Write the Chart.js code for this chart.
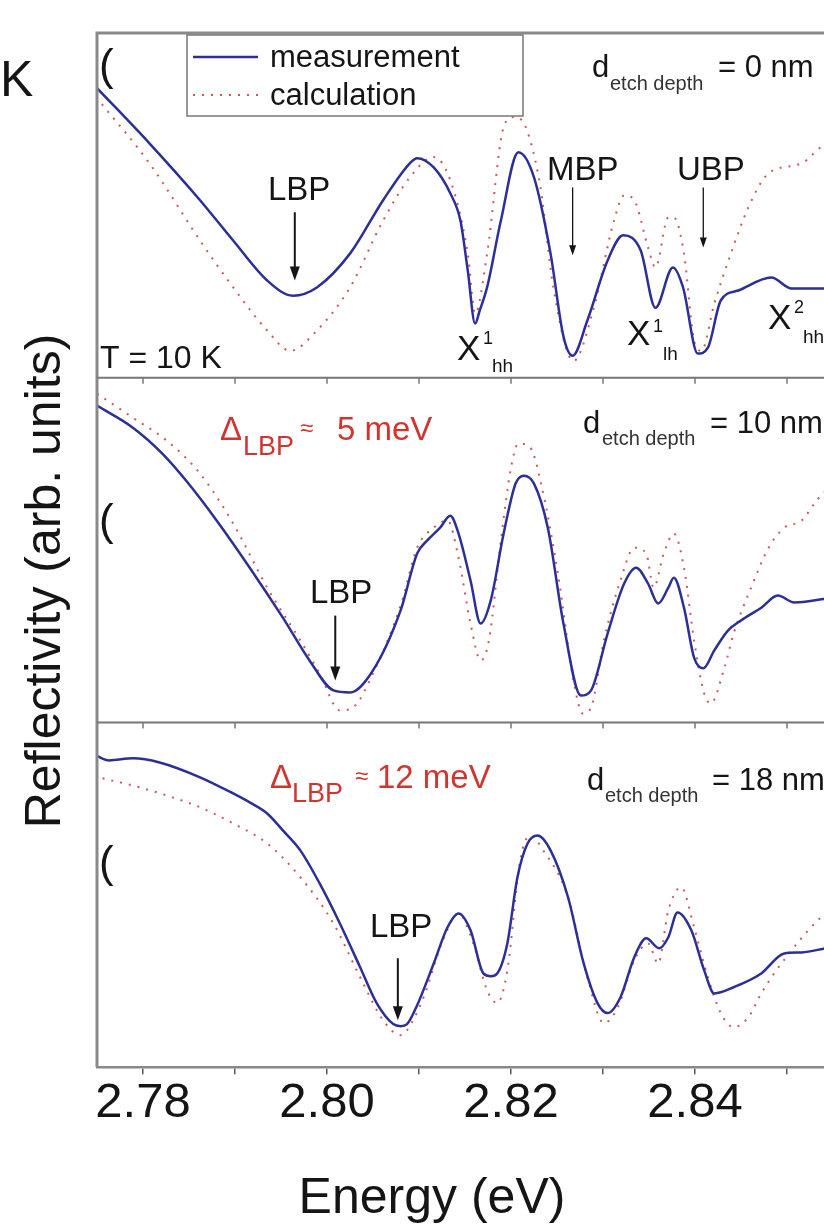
<!DOCTYPE html>
<html>
<head>
<meta charset="utf-8">
<script src="https://cdn.jsdelivr.net/npm/chart.js@4/dist/chart.umd.min.js"></script>
<style>
  html, body { margin: 0; background: #fff; overflow: hidden; }
  #wrap { width: 824px; height: 1225px; overflow: hidden; }
</style>
</head>
<body>
<div id="wrap"><canvas id="reflChart" width="890" height="1225"></canvas></div>
<script>
// Panel 1 : d_etch depth = 0 nm
const energyMeas1 = [2.7749, 2.7807, 2.7862, 2.7898, 2.7935, 2.7963, 2.7989, 2.8025, 2.8061, 2.8090, 2.8098, 2.8116, 2.8134, 2.8145, 2.8153, 2.8161, 2.8166, 2.8174, 2.8189, 2.8208, 2.8225, 2.8243, 2.8257, 2.8267, 2.8283, 2.8305, 2.8322, 2.8341, 2.8357, 2.8376, 2.8387, 2.8403, 2.8414, 2.8428, 2.8447, 2.8483, 2.8505, 2.8542];
const reflMeas1 = [84.3, 68.0, 51.5, 39.8, 28.2, 23.8, 26.2, 36.0, 51.5, 62.2, 63.7, 61.0, 53.5, 45.6, 31.1, 15.7, 19.5, 26.2, 45.6, 65.4, 58.1, 36.0, 12.0, 6.4, 16.6, 34.0, 41.3, 36.9, 20.3, 32.0, 26.2, 7.0, 8.7, 22.4, 25.3, 29.1, 25.9, 25.9];
const energyCalc1 = [2.7749, 2.7807, 2.7862, 2.7898, 2.7935, 2.7960, 2.7989, 2.8025, 2.8061, 2.8090, 2.8116, 2.8134, 2.8153, 2.8161, 2.8174, 2.8192, 2.8203, 2.8216, 2.8232, 2.8246, 2.8268, 2.8290, 2.8312, 2.8323, 2.8334, 2.8349, 2.8357, 2.8371, 2.8377, 2.8388, 2.8399, 2.8407, 2.8421, 2.8439, 2.8458, 2.8480, 2.8516, 2.8537, 2.8542];
const reflCalc1 = [81.4, 62.2, 39.8, 26.2, 13.7, 7.8, 13.7, 26.2, 45.6, 58.1, 64.0, 57.3, 36.0, 18.6, 36.0, 72.7, 75.6, 72.7, 55.2, 26.2, 4.9, 20.3, 45.6, 52.9, 51.5, 37.8, 32.0, 46.5, 46.5, 36.0, 10.8, 7.8, 21.5, 36.0, 49.4, 59.3, 62.2, 66.9, 67.5];

// Panel 2 : d_etch depth = 10 nm
const energyMeas2 = [2.7750, 2.7789, 2.7821, 2.7847, 2.7880, 2.7916, 2.7952, 2.7981, 2.8007, 2.8025, 2.8050, 2.8080, 2.8098, 2.8109, 2.8123, 2.8134, 2.8143, 2.8156, 2.8167, 2.8178, 2.8192, 2.8205, 2.8214, 2.8225, 2.8240, 2.8257, 2.8276, 2.8287, 2.8305, 2.8323, 2.8336, 2.8349, 2.8360, 2.8371, 2.8377, 2.8388, 2.8399, 2.8409, 2.8421, 2.8436, 2.8450, 2.8472, 2.8490, 2.8508, 2.8542];
const reflMeas2 = [91.9, 85.5, 78.0, 70.1, 58.6, 44.9, 30.4, 18.0, 9.3, 8.7, 15.1, 32.5, 49.0, 52.8, 56.5, 60.0, 54.8, 41.2, 28.7, 35.4, 54.8, 69.3, 71.6, 69.3, 56.5, 28.7, 7.8, 9.3, 25.8, 40.3, 44.9, 40.3, 34.5, 39.1, 42.0, 33.3, 18.8, 15.7, 20.9, 26.7, 29.6, 33.3, 36.8, 34.8, 35.9];
const energyCalc2 = [2.7750, 2.7789, 2.7826, 2.7862, 2.7898, 2.7935, 2.7971, 2.7992, 2.8014, 2.8028, 2.8050, 2.8080, 2.8098, 2.8116, 2.8131, 2.8143, 2.8156, 2.8167, 2.8176, 2.8189, 2.8200, 2.8208, 2.8221, 2.8232, 2.8251, 2.8268, 2.8278, 2.8287, 2.8301, 2.8319, 2.8334, 2.8347, 2.8355, 2.8366, 2.8377, 2.8388, 2.8399, 2.8410, 2.8417, 2.8432, 2.8442, 2.8461, 2.8480, 2.8497, 2.8516, 2.8532, 2.8542];
const reflCalc2 = [95.4, 88.4, 81.7, 72.2, 57.7, 39.1, 23.8, 14.2, 3.5, 4.3, 14.2, 33.9, 50.7, 56.5, 58.6, 47.8, 28.7, 18.0, 23.8, 52.8, 73.9, 80.9, 79.7, 70.1, 43.2, 12.2, 2.6, 4.3, 23.8, 41.2, 50.7, 49.0, 39.1, 49.0, 54.8, 44.9, 23.8, 8.4, 5.5, 15.9, 25.8, 39.1, 50.7, 56.5, 58.6, 64.3, 67.2];

// Panel 3 : d_etch depth = 18 nm
const energyMeas3 = [2.7749, 2.7763, 2.7789, 2.7818, 2.7862, 2.7898, 2.7916, 2.7935, 2.7952, 2.7971, 2.7992, 2.8014, 2.8036, 2.8054, 2.8072, 2.8080, 2.8087, 2.8098, 2.8116, 2.8131, 2.8143, 2.8156, 2.8170, 2.8178, 2.8185, 2.8196, 2.8207, 2.8218, 2.8229, 2.8243, 2.8262, 2.8279, 2.8294, 2.8305, 2.8319, 2.8334, 2.8347, 2.8361, 2.8371, 2.8381, 2.8396, 2.8410, 2.8421, 2.8442, 2.8472, 2.8497, 2.8516, 2.8542];
const reflMeas3 = [90.4, 89.0, 89.6, 88.4, 84.1, 79.4, 76.8, 73.6, 68.7, 62.9, 53.3, 41.7, 29.0, 18.6, 12.5, 11.9, 12.5, 18.0, 30.1, 40.6, 44.6, 39.7, 27.2, 26.4, 27.2, 35.9, 55.1, 64.9, 67.2, 62.9, 49.3, 30.1, 18.6, 15.7, 20.3, 31.9, 37.4, 34.5, 37.7, 44.9, 39.7, 28.1, 21.4, 23.2, 27.2, 33.0, 33.3, 34.5];
const energyCalc3 = [2.7756, 2.7789, 2.7826, 2.7862, 2.7898, 2.7935, 2.7971, 2.8007, 2.8036, 2.8061, 2.8080, 2.8087, 2.8105, 2.8126, 2.8143, 2.8159, 2.8174, 2.8185, 2.8196, 2.8210, 2.8221, 2.8235, 2.8262, 2.8283, 2.8301, 2.8316, 2.8334, 2.8349, 2.8360, 2.8371, 2.8385, 2.8399, 2.8414, 2.8428, 2.8442, 2.8458, 2.8472, 2.8486, 2.8505, 2.8523, 2.8537, 2.8542];
const reflCalc3 = [83.8, 81.7, 78.8, 75.4, 70.7, 64.9, 55.1, 41.7, 26.1, 13.6, 9.3, 10.7, 20.3, 36.8, 44.6, 35.9, 22.3, 18.6, 28.1, 60.0, 67.2, 62.9, 49.3, 26.1, 12.8, 17.4, 31.0, 35.9, 30.1, 45.5, 52.2, 40.6, 26.1, 15.7, 11.6, 14.5, 21.4, 27.2, 33.9, 39.7, 43.5, 44.6];

const FONT = "'Liberation Sans', Arial, Helvetica, sans-serif";
const BLUE = '#2c2f96';
const RED = 'rgba(196, 72, 64, 0.9)';
const RED_TEXT = '#d1352f';
const INK = '#151515';

function pts(xs, ys) {
    return xs.map((x, i) => ({ x: x, y: ys[i] }));
}

function measSet(xs, ys, axis) {
    return { label: 'measurement', data: pts(xs, ys), yAxisID: axis, borderColor: BLUE,
             borderWidth: 2.5, pointRadius: 0, cubicInterpolationMode: 'monotone' };
}
function calcSet(xs, ys, axis) {
    return { label: 'calculation', data: pts(xs, ys), yAxisID: axis, borderColor: RED,
             borderWidth: 2, borderDash: [2, 7], pointRadius: 0, cubicInterpolationMode: 'monotone' };
}

// texte: [text, x, y(baseline), size, color]
const texts = [
    ['K', 0, 96, 50, INK],
    ['(', 99, 80, 44, INK], ['(', 99, 535, 44, INK], ['(', 99, 877, 44, INK],
    ['measurement', 270, 67, 31, INK],
    ['calculation', 270, 105, 31, INK],
    ['d', 592, 77, 31, INK], ['etch depth', 610, 90, 20, '#333'], ['= 0 nm', 718, 77, 31, INK],
    ['LBP', 268, 200, 33, INK], ['MBP', 547, 180, 33, INK], ['UBP', 677, 180, 33, INK],
    ['X', 457, 360, 35, INK], ['1', 483, 344, 18, INK], ['hh', 492, 372, 19, INK],
    ['X', 627, 345, 35, INK], ['1', 653, 332, 18, INK], ['lh', 663, 360, 19, INK],
    ['X', 768, 329, 35, INK], ['2', 794, 313, 18, INK], ['hh', 803, 343, 19, INK],
    ['T = 10 K', 100, 368, 32, INK],
    ['\u0394', 220, 440, 33, RED_TEXT], ['LBP', 243, 455, 27, RED_TEXT], ['\u2248', 300, 436, 24, RED_TEXT], ['5 meV', 337, 440, 33, RED_TEXT],
    ['d', 583, 433, 31, INK], ['etch depth', 602, 445, 20, '#333'], ['= 10 nm', 710, 433, 31, INK],
    ['LBP', 310, 603, 33, INK],
    ['\u0394', 270, 788, 33, RED_TEXT], ['LBP', 292, 802, 27, RED_TEXT], ['\u2248', 355, 784, 24, RED_TEXT], ['12 meV', 377, 788, 33, RED_TEXT],
    ['d', 587, 790, 31, INK], ['etch depth', 605, 802, 20, '#333'], ['= 18 nm', 712, 790, 31, INK],
    ['LBP', 370, 937, 33, INK]
];

// pfeile: energie, achse, von, bis (in arb. units), dick
const arrows = [
    [2.7965, 'y1', 48.0, 28.2, true],
    [2.8267, 'y1', 55.2, 35.5, false],
    [2.8409, 'y1', 55.2, 37.8, false],
    [2.8009, 'y2', 31.0, 12.2, true],
    [2.8077, 'y3', 31.6, 13.6, true]
];

const decor = {
    id: 'decor',
    afterDatasetsDraw(chart) {
        const ctx = chart.ctx;
        const a = chart.chartArea;
        const xs = chart.scales.x;
        ctx.save();

        // rahmen und trennlinien
        ctx.strokeStyle = '#8a8a8a';
        ctx.lineWidth = 3;
        ctx.beginPath();
        ctx.moveTo(a.left, a.bottom); ctx.lineTo(a.left, a.top); ctx.lineTo(a.right, a.top); ctx.lineTo(a.right, a.bottom);
        ctx.stroke();
        ctx.strokeStyle = '#777';
        ctx.lineWidth = 2;
        ['y1', 'y2'].forEach(id => {
            const yb = chart.scales[id].bottom;
            ctx.beginPath(); ctx.moveTo(a.left, yb); ctx.lineTo(a.right, yb); ctx.stroke();
            ctx.lineWidth = 1.5;
            xs.ticks.forEach(t => {
                const px = xs.getPixelForValue(t.value);
                ctx.beginPath(); ctx.moveTo(px, yb); ctx.lineTo(px, yb + 6); ctx.stroke();
            });
            ctx.lineWidth = 2;
        });

        // legende
        ctx.fillStyle = '#fff';
        ctx.fillRect(187, 35, 336, 81);
        ctx.strokeStyle = '#777';
        ctx.lineWidth = 1.5;
        ctx.strokeRect(187, 35, 336, 81);
        ctx.strokeStyle = BLUE; ctx.lineWidth = 2.5;
        ctx.beginPath(); ctx.moveTo(193, 57); ctx.lineTo(258, 57); ctx.stroke();
        ctx.strokeStyle = RED; ctx.lineWidth = 2; ctx.setLineDash([2, 7]);
        ctx.beginPath(); ctx.moveTo(193, 95); ctx.lineTo(258, 95); ctx.stroke();
        ctx.setLineDash([]);

        // texte
        ctx.textAlign = 'left';
        ctx.textBaseline = 'alphabetic';
        texts.forEach(([s, x, y, size, col]) => {
            ctx.font = size + 'px ' + FONT;
            ctx.fillStyle = col;
            ctx.fillText(s, x, y);
        });

        // pfeile
        ctx.strokeStyle = INK; ctx.fillStyle = INK;
        arrows.forEach(([e, id, v0, v1, thick]) => {
            const px = xs.getPixelForValue(e);
            const y0 = chart.scales[id].getPixelForValue(v0);
            const y1 = chart.scales[id].getPixelForValue(v1);
            const hl = thick ? 14 : 10, hw = thick ? 5 : 3.5;
            ctx.lineWidth = thick ? 2 : 1.3;
            ctx.beginPath(); ctx.moveTo(px, y0); ctx.lineTo(px, y1 - hl + 2); ctx.stroke();
            ctx.beginPath(); ctx.moveTo(px - hw, y1 - hl); ctx.lineTo(px + hw, y1 - hl); ctx.lineTo(px, y1); ctx.closePath(); ctx.fill();
        });

        // achsentitel
        ctx.font = '50px ' + FONT;
        ctx.fillStyle = INK;
        ctx.textAlign = 'center';
        ctx.fillText('Energy (eV)', 432, 1213);
        ctx.translate(60, 581);
        ctx.rotate(-Math.PI / 2);
        ctx.fillText('Reflectivity (arb. units)', 0, 0);
        ctx.restore();
    }
};

function panelAxis(weight) {
    return { type: 'linear', position: 'left', stack: 'panels', stackWeight: 1, weight: weight,
             min: 0, max: 100, display: false };
}

const ctxRefl = document.getElementById('reflChart').getContext('2d');
new Chart(ctxRefl, {
    type: 'line',
    data: {
        datasets: [
            measSet(energyMeas1, reflMeas1, 'y1'), calcSet(energyCalc1, reflCalc1, 'y1'),
            measSet(energyMeas2, reflMeas2, 'y2'), calcSet(energyCalc2, reflCalc2, 'y2'),
            measSet(energyMeas3, reflMeas3, 'y3'), calcSet(energyCalc3, reflCalc3, 'y3')
        ]
    },
    options: {
        responsive: false,
        animation: false,
        devicePixelRatio: 1,
        layout: { padding: { top: 33, left: 97, right: 11, bottom: 92 } },
        plugins: { legend: { display: false }, tooltip: { enabled: false } },
        scales: {
            x: {
                type: 'linear', position: 'bottom', min: 2.775, max: 2.86,
                border: { display: true, color: '#888', width: 2.5 },
                grid: { drawOnChartArea: false, drawTicks: true, tickLength: 7, color: '#555', lineWidth: 1.5 },
                ticks: {
                    stepSize: 0.01, includeBounds: false, autoSkip: false, maxRotation: 0, padding: 0,
                    color: INK, font: { size: 49, family: FONT },
                    callback: v => {
                        const k = Math.round(v * 100);
                        return (k % 2 === 0 && k <= 284) ? (k / 100).toFixed(2) : '';
                    }
                }
            },
            y1: panelAxis(3),
            y2: panelAxis(2),
            y3: panelAxis(1)
        }
    },
    plugins: [decor]
});
</script>
</body>
</html>
